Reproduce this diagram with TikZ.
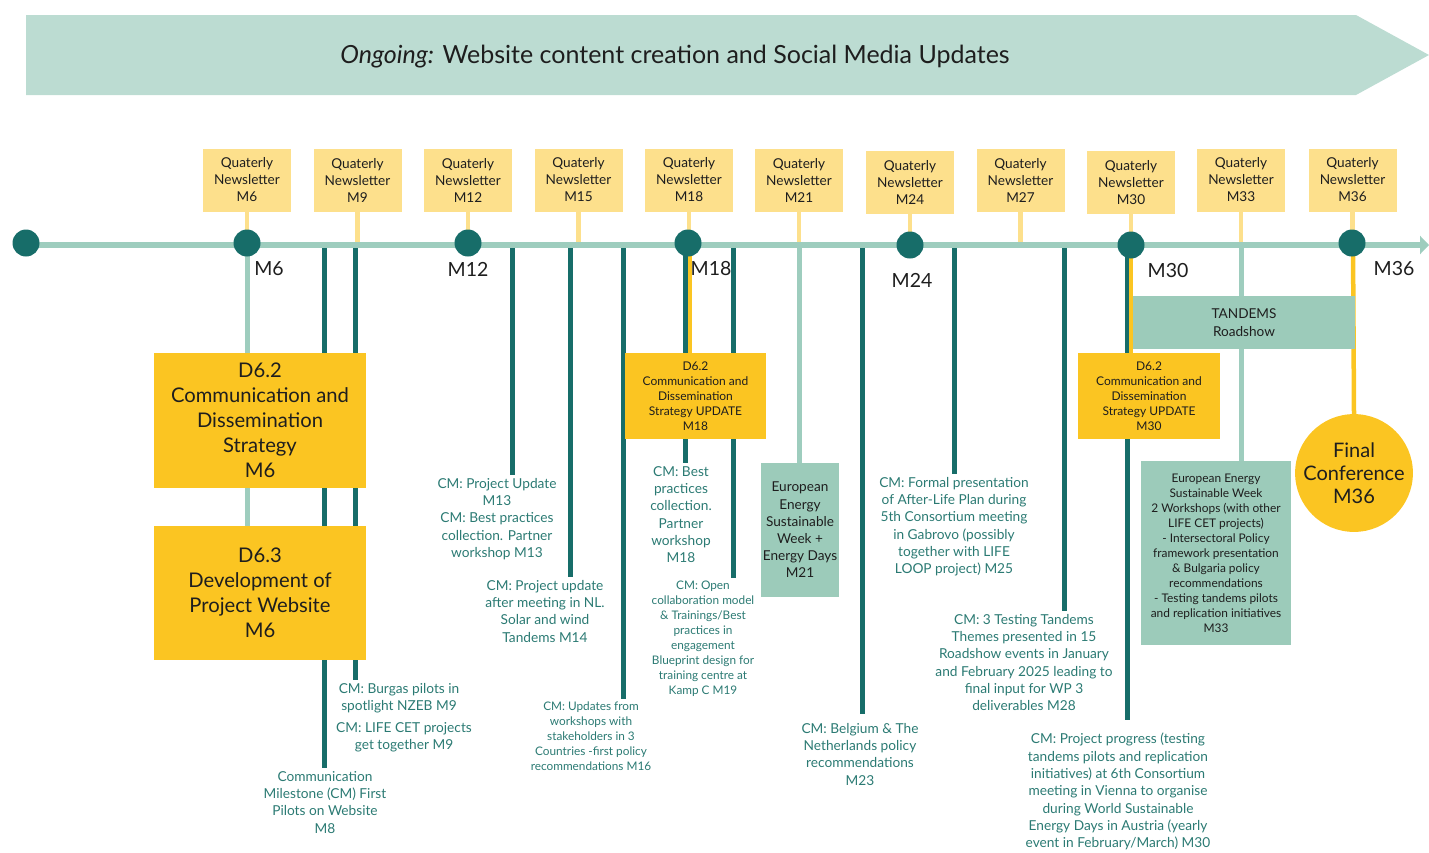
\documentclass[tikz,border=0pt]{standalone}
\usepackage{fontspec}
\setmainfont{Lato}
\usetikzlibrary{arrows.meta}
\definecolor{bannerc}{HTML}{BCDCD2}
\definecolor{tlc}{HTML}{9ECDBE}
\definecolor{darkc}{HTML}{176D69}
\definecolor{cmtext}{HTML}{2B7A73}
\definecolor{yel}{HTML}{FBC522}
\definecolor{lyel}{HTML}{FDE08C}
\definecolor{grn}{HTML}{9CCBBA}
\definecolor{ink}{HTML}{1E1E1E}
\pgfdeclarelayer{bg}
\pgfdeclarelayer{mid}
\pgfsetlayers{bg,mid,main}
\tikzset{
  dot/.style={circle, fill=darkc, minimum size=27pt, inner sep=0pt},
  nlbox/.style={fill=lyel, minimum width=88pt, minimum height=63pt, inner sep=0pt, align=center, text=ink, font=\fontsize{13.6}{17}\selectfont},
  nlconn/.style={draw=lyel, line width=4.5pt},
  tlline/.style={draw=tlc, line width=6pt},
  darkline/.style={draw=darkc, line width=5pt},
  lightline/.style={draw=tlc, line width=5pt},
  yelline/.style={draw=yel, line width=4.5pt},
  cmlabel/.style={anchor=north, align=center, text=cmtext, inner sep=3pt, font=\fontsize{13.7}{17.3}\selectfont},
  cmsmall/.style={anchor=north, align=center, text=cmtext, inner sep=3pt, font=\fontsize{11.8}{15}\selectfont},
  mlabel/.style={text=ink, inner sep=0pt, font=\fontsize{19.5}{23}\selectfont},
  bigbox/.style={fill=yel, minimum width=212pt, minimum height=135pt, inner sep=0pt, align=center, text=ink, font=\fontsize{20.2}{25}\selectfont},
  updbox/.style={fill=yel, minimum width=141pt, minimum height=86pt, inner sep=0pt, align=center, text=ink, font=\fontsize{12}{15}\selectfont},
  grnbox/.style={fill=grn, inner sep=0pt, align=center, text=ink}
}
\begin{document}
\begin{tikzpicture}[x=1pt,y=-1pt]
\useasboundingbox (0,0) rectangle (1429,852);
% banner
\fill[bannerc] (26,15) -- (1356,15) -- (1429,55) -- (1356,95) -- (26,95) -- cycle;
\node[text=ink, font=\fontsize{25}{29}\selectfont] (bannertext) at (675,57) {\textit{Ongoing:} Website content creation and Social Media Updates};

% timeline anchors
\foreach \x in {247,324,355,468,512,570,623,685,689,690,733,799,862,910,954,1064,1127,1131,1241,1353}
  \coordinate (a\x) at (\x,245);
\coordinate (a357) at (357.5,245);
\coordinate (a578) at (578.5,245);
\coordinate (a1020) at (1020.5,245);
\coordinate (a1352) at (1352.5,245);
\coordinate (tstart) at (26,245);
\coordinate (tend) at (1429,245);

% newsletter boxes
\node[nlbox] (nl6)  at (247,180)    {Quaterly\\Newsletter\\M6};
\node[nlbox] (nl9)  at (357.5,180.5){Quaterly\\Newsletter\\M9};
\node[nlbox] (nl12) at (468,180)    {Quaterly\\Newsletter\\M12};
\node[nlbox] (nl15) at (578.5,180)  {Quaterly\\Newsletter\\M15};
\node[nlbox] (nl18) at (689,180)    {Quaterly\\Newsletter\\M18};
\node[nlbox] (nl21) at (799,180)    {Quaterly\\Newsletter\\M21};
\node[nlbox] (nl24) at (910,182.5)  {Quaterly\\Newsletter\\M24};
\node[nlbox] (nl27) at (1020.5,180) {Quaterly\\Newsletter\\M27};
\node[nlbox] (nl30) at (1131,182.5) {Quaterly\\Newsletter\\M30};
\node[nlbox] (nl33) at (1241,180)   {Quaterly\\Newsletter\\M33};
\node[nlbox] (nl36) at (1352.5,180) {Quaterly\\Newsletter\\M36};

% boxes
\node[bigbox] (d62) at (260,420.5) {D6.2\\Communication and\\Dissemination\\Strategy\\M6};
\node[bigbox, minimum height=134pt] (d63) at (260,593) {D6.3\\Development of\\Project Website\\M6};
\node[updbox] (d62b) at (695.5,396) {D6.2\\Communication and\\Dissemination\\Strategy UPDATE\\M18};
\node[grnbox, minimum width=78pt, minimum height=134pt, font=\fontsize{13.6}{17.2}\selectfont] (ee21) at (800,530) {European\\Energy\\Sustainable\\Week +\\Energy Days\\M21};
\node[grnbox, minimum width=222pt, minimum height=53pt, font=\fontsize{13.6}{18}\selectfont] (tandems) at (1244,322.5) {TANDEMS\\Roadshow};
\node[updbox, minimum width=142pt] (d62c) at (1149,396) {D6.2\\Communication and\\Dissemination\\Strategy UPDATE\\M30};
\node[grnbox, minimum width=150pt, minimum height=184pt, font=\fontsize{11.9}{15}\selectfont] (ee33) at (1216,553) {European Energy\\Sustainable Week\\2 Workshops (with other\\LIFE CET projects)\\- Intersectoral Policy\\framework presentation\\\& Bulgaria policy\\recommendations\\- Testing tandems pilots\\and replication initiatives\\M33};
\node[circle, fill=yel, minimum size=114pt, inner sep=0pt, align=center, text=ink, font=\fontsize{20}{23}\selectfont] (final) at (1354,473) {Final\\Conference\\M36};

% CM labels
\node[cmlabel] (cm8)  at (325,768) {Communication\\Milestone (CM) First\\Pilots on Website\\M8};
\node[cmlabel] (cm9a) at (399,680) {CM: Burgas pilots in\\spotlight NZEB M9};
\node[cmlabel] (cm9b) at (404,719) {CM: LIFE CET projects\\get together M9};
\node[cmlabel] (cm13) at (497,475) {CM: Project Update\\M13\\CM: Best practices\\collection. Partner\\workshop M13};
\node[cmlabel] (cm14) at (545,577) {CM: Project update\\after meeting in NL.\\Solar and wind\\Tandems M14};
\node[cmsmall] (cm16) at (591,699) {CM: Updates from\\workshops with\\stakeholders in 3\\Countries -first policy\\recommendations M16};
\node[cmlabel] (cm18) at (681,463) {CM: Best\\practices\\collection.\\Partner\\workshop\\M18};
\node[cmsmall] (cm19) at (703,578) {CM: Open\\collaboration model\\\& Trainings/Best\\practices in\\engagement\\Blueprint design for\\training centre at\\Kamp C M19};
\node[cmlabel] (cm23) at (860,720) {CM: Belgium \& The\\Netherlands policy\\recommendations\\M23};
\node[cmlabel] (cm25) at (954,474) {CM: Formal presentation\\of After-Life Plan during\\5th Consortium meeting\\in Gabrovo (possibly\\together with LIFE\\LOOP project) M25};
\node[cmlabel] (cm28) at (1024,611) {CM: 3 Testing Tandems\\Themes presented in 15\\Roadshow events in January\\and February 2025 leading to\\final input for WP 3\\deliverables M28};
\node[cmlabel] (cm30) at (1118,730) {CM: Project progress (testing\\tandems pilots and replication\\initiatives) at 6th Consortium\\meeting in Vienna to organise\\during World Sustainable\\Energy Days in Austria (yearly\\event in February/March) M30};

% dots
\node[dot] (t0)  at (26,243) {};
\node[dot] (t6)  at (247,243) {};
\node[dot] (t12) at (468,243) {};
\node[dot] (t18) at (688,243) {};
\node[dot] (t24) at (910,245) {};
\node[dot] (t30) at (1131,245) {};
\node[dot] (t36) at (1352,243) {};

% month labels
\node[mlabel] (m6)  at (269,269) {M6};
\node[mlabel] (m12) at (468,269) {M12};
\node[mlabel] (m18) at (711,269) {M18};
\node[mlabel] (m24) at (912,280) {M24};
\node[mlabel] (m30) at (1168,271) {M30};
\node[mlabel] (m36) at (1394,269) {M36};

\begin{pgfonlayer}{bg}
% vertical lines
\draw[lightline] (a247) -- (d63.north -| a247);
\draw[darkline] (a324) -- (a324 |- cm8.north);
\draw[darkline] (a355) -- (a355 |- cm9a.north);
\draw[darkline] (a512) -- (a512 |- cm13.north);
\draw[darkline] (a570) -- (a570 |- cm14.north);
\draw[darkline] (a623) -- (a623 |- cm16.north);
\draw[darkline] (a685) -- (a685 |- cm18.north);
\draw[darkline] (a733) -- (a733 |- cm19.north);
\draw[darkline, shorten >=6pt] (a862) -- (a862 |- cm23.north);
\draw[darkline] (a954) -- (a954 |- cm25.north);
\draw[darkline] (a1064) -- (a1064 |- cm28.north);
\draw[darkline, shorten >=10pt] (a1127) -- (a1127 |- cm30.north);
\draw[yelline] (a690) -- (d62b.north -| a690);
\draw[lightline] (a799) -- (ee21.north -| a799);
\draw[yelline] (a1131) -- (d62c.north -| a1131);
\draw[lightline] (a1241) -- (ee33.north -| a1241);
\draw[yelline] (a1353) -- (final.north);
% newsletter connectors
\draw[nlconn] (nl6.south) -- (a247);
\draw[nlconn] (nl9.south) -- (a357);
\draw[nlconn] (nl12.south) -- (a468);
\draw[nlconn] (nl15.south) -- (a578);
\draw[nlconn] (nl18.south) -- (a689);
\draw[nlconn] (nl21.south) -- (a799);
\draw[nlconn] (nl24.south) -- (a910);
\draw[nlconn] (nl27.south) -- (a1020);
\draw[nlconn] (nl30.south) -- (a1131);
\draw[nlconn] (nl33.south) -- (a1241);
\draw[nlconn] (nl36.south) -- (a1352);
\end{pgfonlayer}

\begin{pgfonlayer}{mid}
\draw[tlline, -{Triangle[length=9pt,width=18pt]}] (tstart) -- (tend);
\end{pgfonlayer}
\end{tikzpicture}
\end{document}
